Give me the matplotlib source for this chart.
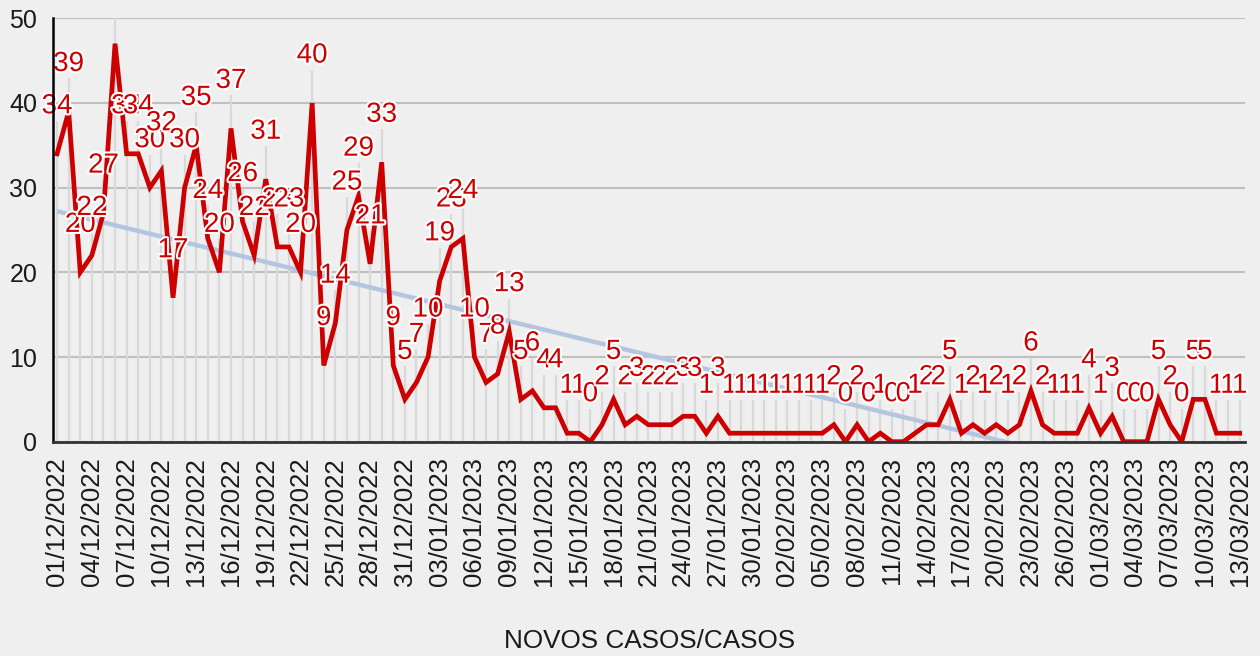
import numpy as np
import pandas as pd
import matplotlib
matplotlib.use("Agg")
import matplotlib.pyplot as plt
import matplotlib.patheffects as pe

plt.rcParams['font.family'] = ['Liberation Sans', 'DejaVu Sans']

start_date = "2022-12-01"
end_date = "2023-03-13"
casos = [34, 39, 20, 22, 27, 47, 34, 34, 30, 32,
         17, 30, 35, 24, 20, 37, 26, 22, 31, 23,
         23, 20, 40, 9, 14, 25, 29, 21, 33, 9,
         5, 7, 10, 19, 23, 24, 10, 7, 8, 13,
         5, 6, 4, 4, 1, 1, 0, 2, 5, 2,
         3, 2, 2, 2, 3, 3, 1, 3, 1, 1,
         1, 1, 1, 1, 1, 1, 1, 2, 0, 2,
         0, 1, 0, 0, 1, 2, 2, 5, 1, 2,
         1, 2, 1, 2, 6, 2, 1, 1, 1, 4,
         1, 3, 0, 0, 0, 5, 2, 0, 5, 5,
         1, 1, 1]
titulo_x = "NOVOS CASOS/CASOS"

datas = pd.date_range(start_date, end_date, freq="D")
rotulos = [d.strftime("%d/%m/%Y") for d in datas]
x = np.arange(len(casos))
y = np.array(casos, dtype=float)

bg = "#efefef"
red = "#cc0000"
fig = plt.figure(figsize=(12.6, 6.56), dpi=100, facecolor=bg)
ax = fig.add_axes([0.0418, 0.3267, 0.9462, 0.6454], facecolor=bg)

ymax = 50
ax.set_ylim(0, ymax)
ax.set_xlim(-0.38, len(casos) - 1 + 0.45)
ax.set_yticks(np.arange(0, 51, 10))
ax.yaxis.grid(True, color="#c0c0c0", linewidth=1.5, zorder=0)
ax.set_axisbelow(True)

label_off = 5.6
line_off = 3.9
# drop lines from axis to labels
ax.vlines(x, 0, y + line_off, colors="#d9d9d9", linewidth=1.6, zorder=1)

# linear trend
coef = np.polyfit(x, y, 1)
trend = np.polyval(coef, x)
ax.plot(x, trend, color="#b4c6df", linewidth=3.2, zorder=2, solid_capstyle="butt")

ax.plot(x, y, color=red, linewidth=3.4, zorder=3, solid_joinstyle="miter")

for xi, yi in zip(x, casos):
    if yi + label_off > ymax + 1:
        continue
    ax.text(xi, yi + label_off, str(yi), color=red, fontsize=20,
            ha="center", va="center", zorder=4, clip_on=False,
            path_effects=[pe.withStroke(linewidth=3, foreground="white")])

ax.set_xticks(x[::3])
ax.set_xticklabels(rotulos[::3], rotation=90, fontsize=18.5, color="#1a1a1a")
ax.tick_params(axis="x", length=0, pad=11)
ax.tick_params(axis="y", length=0, pad=11, labelsize=18, labelcolor="#1a1a1a")

for s in ["top", "right"]:
    ax.spines[s].set_visible(False)
ax.spines["left"].set_color("black")
ax.spines["left"].set_linewidth(1.8)
ax.spines["bottom"].set_color("#333333")
ax.spines["bottom"].set_linewidth(2)
ax.spines["left"].set_zorder(5)
ax.spines["bottom"].set_zorder(5)

fig.text(0.5152, 1 - 640.7 / 656, titulo_x, ha="center", va="center",
         fontsize=18.8, color="#1a1a1a")

fig.savefig("out.png", dpi=100, facecolor=bg)
